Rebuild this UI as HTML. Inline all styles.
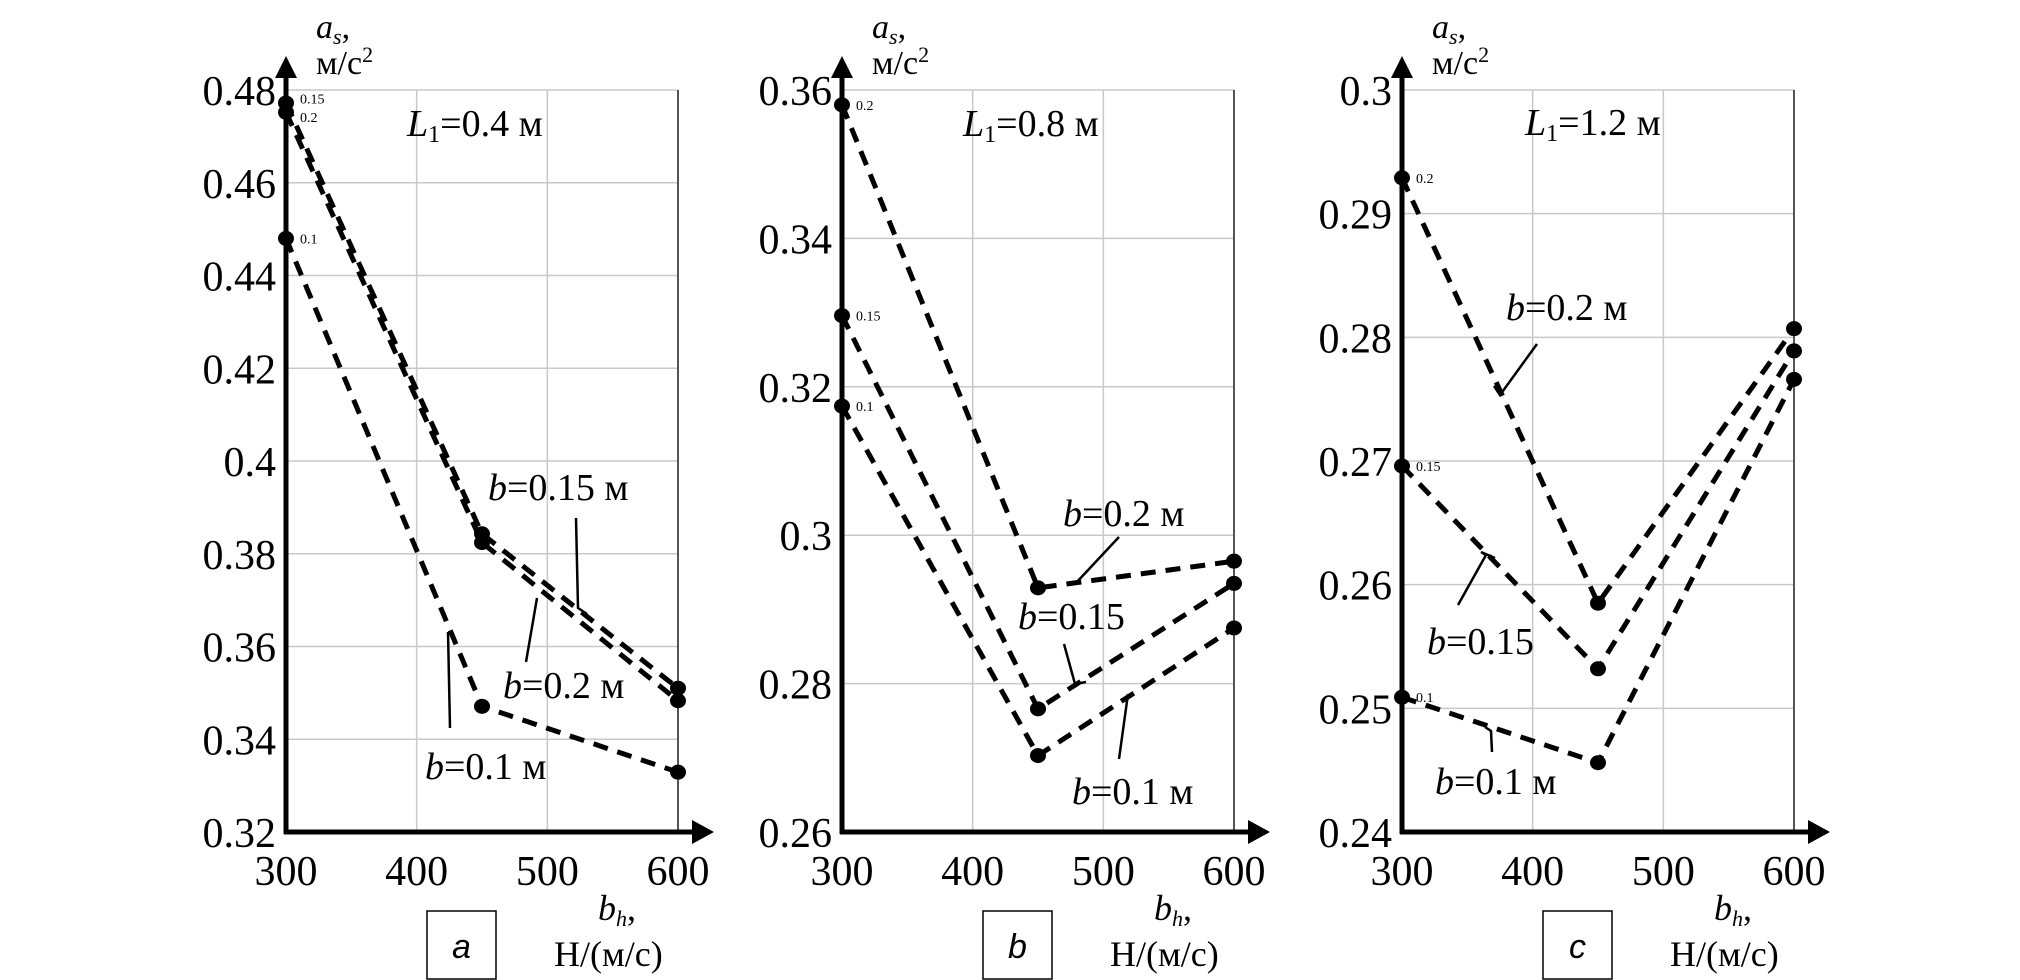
<!DOCTYPE html>
<html><head><meta charset="utf-8">
<style>
html,body{margin:0;padding:0;background:#fff;}
svg{display:block;}
text{font-family:"Liberation Serif",serif;fill:#000;}
</style></head>
<body>
<svg id="chart" width="2020" height="980" viewBox="0 0 2020 980"></svg>
<script>
const xCategories = [300, 450, 600];
const xTicks = [300, 400, 500, 600];
// panel a (L1=0.4)
const aB015 = [0.4772, 0.3843, 0.3510];
const aB02  = [0.4752, 0.3824, 0.3483];
const aB01  = [0.4480, 0.3471, 0.3329];
const aYTicks = ["0.32","0.34","0.36","0.38","0.4","0.42","0.44","0.46","0.48"];
// panel b (L1=0.8)
const bB02  = [0.3580, 0.2929, 0.2965];
const bB015 = [0.3296, 0.2766, 0.2935];
const bB01  = [0.3174, 0.2703, 0.2875];
const bYTicks = ["0.26","0.28","0.3","0.32","0.34","0.36"];
// panel c (L1=1.2)
const cB02  = [0.2929, 0.2585, 0.2807];
const cB015 = [0.2696, 0.2532, 0.2789];
const cB01  = [0.2509, 0.2456, 0.2766];
const cYTicks = ["0.24","0.25","0.26","0.27","0.28","0.29","0.3"];

const NS = "http://www.w3.org/2000/svg";
const svg = document.getElementById('chart');
function mk(tag, attrs, parent){
  const e = document.createElementNS(NS, tag);
  for (const k in attrs) e.setAttribute(k, attrs[k]);
  (parent||svg).appendChild(e);
  return e;
}
function txt(parent, x, y, s, size, anchor, style){
  const t = mk('text', {x:x, y:y, 'font-size':size, 'text-anchor':anchor||'start'}, parent);
  if (style) t.setAttribute('font-style', style);
  t.textContent = s;
  return t;
}

const TOP = 90, BOT = 832;
function panel(id, x0, yTicks, series, smallLabels, title, annots, boxLetter){
  const g = mk('g', {});
  
  
  const x1 = x0 + 392;
  const yMin = parseFloat(yTicks[0]), yMax = parseFloat(yTicks[yTicks.length-1]);
  const X = v => x0 + (v - 300) / 300 * (x1 - x0);
  const Y = v => BOT - (v - yMin) / (yMax - yMin) * (BOT - TOP);
  const grid = mk('g', {stroke:'#c8c8c8','stroke-width':1.5}, g);
  
  
  xTicks.forEach(v => { if (v>300) mk('line',{x1:X(v),y1:TOP,x2:X(v),y2:BOT},grid); });
  yTicks.forEach(s => { const v=parseFloat(s); if (v>yMin) mk('line',{x1:x0,y1:Y(v),x2:x1,y2:Y(v)},grid); });
  mk('line',{x1:x1,y1:TOP,x2:x1,y2:BOT,stroke:'#555','stroke-width':2},g);
  const ax = mk('g', {}, g);
  
  
  mk('line',{x1:x0,y1:BOT+2,x2:x0,y2:70,stroke:'#000','stroke-width':5},ax);
  mk('polygon',{points:`${x0-11},${78} ${x0+11},${78} ${x0},${56}`,fill:'#000'},ax);
  mk('line',{x1:x0-2,y1:BOT,x2:x1+20,y2:BOT,stroke:'#000','stroke-width':5},ax);
  mk('polygon',{points:`${x1+14},${BOT-12} ${x1+14},${BOT+12} ${x1+36},${BOT}`,fill:'#000'},ax);
  yTicks.forEach(s => {
    const t = txt(g, x0-10, Y(parseFloat(s))+15, s, 42, 'end');
    
    
  });
  xTicks.forEach(v => {
    const t = txt(g, X(v), 885, String(v), 42, 'middle');
    
    
  });
  const yt = mk('text',{x:x0+30,y:38,'font-size':34,'font-style':'italic'},g);
  
  
  yt.innerHTML = 'a<tspan font-size="22" dy="6">s</tspan><tspan font-style="normal" dy="-6">,</tspan>';
  const yu = mk('text',{x:x0+30,y:74,'font-size':34},g);
  
  
  yu.innerHTML = 'м/с<tspan font-size="22" dy="-12">2</tspan>';
  const xt = mk('text',{x:x1-80,y:920,'font-size':36,'font-style':'italic'},g);
  
  
  xt.innerHTML = 'b<tspan font-size="22" dy="6">h</tspan><tspan font-style="normal" dy="-6">,</tspan>';
  const xu = txt(g, x1-124, 966, 'Н/(м/с)', 36, 'start');
  
  
  const bx = x0 + 141;
  const br = mk('rect',{x:bx,y:911,width:69,height:68,fill:'#fff',stroke:'#000','stroke-width':1.5},g);
  
  
  const bt = mk('text',{x:bx+34.5,y:958,'font-size':34,'text-anchor':'middle','font-style':'italic'},g);
  bt.setAttribute('style','font-family:"Liberation Sans",sans-serif');
  
  
  bt.textContent = boxLetter;
  const tt = mk('text',{x:title[0],y:title[1],'font-size':38},g);
  
  
  tt.innerHTML = '<tspan font-style="italic">L</tspan><tspan font-size="24" dy="6">1</tspan><tspan dy="-6">=' + title[2] + ' м</tspan>';
  series.forEach(sr => {
    const sg = mk('g',{},g);
    
    
    const pts = xCategories.map((c,i)=>X(c)+','+Y(sr.vals[i])).join(' ');
    const pl = mk('polyline',{points:pts,fill:'none',stroke:'#000','stroke-width':5,'stroke-dasharray':'15,10'},sg);
    
    
    xCategories.forEach((c,i)=>{
      const d = mk('ellipse',{cx:X(c),cy:Y(sr.vals[i]),rx:8,ry:7.5,fill:'#000'},sg);
      
      
    });
  });
  smallLabels.forEach(l => {
    const t = txt(g, x0+14, Y(l[1])+5, l[0], 14, 'start');
    
    
  });
  annots.forEach(a => {
    const t = mk('text',{x:a.x,y:a.y,'font-size':38},g);
    
    
    t.innerHTML = '<tspan font-style="italic">b</tspan>=' + a.s;
    const l = mk('polyline',{points:a.line,fill:'none',stroke:'#000','stroke-width':2.5},g);
    
    
  });
}

panel('a', 286, aYTicks,
  [{name:'b015',vals:aB015},{name:'b02',vals:aB02},{name:'b01',vals:aB01}],
  [['0.15',aB015[0]+0.001],['0.2',aB02[0]-0.001],['0.1',aB01[0]]],
  [407,136,'0.4'],
  [{x:488,y:500,s:'0.15 м',line:'576,518 578,608 587,614'},
   {x:503,y:698,s:'0.2 м',line:'537,598 526,662'},
   {x:425,y:779,s:'0.1 м',line:'448,632 450,728'}], 'a');
panel('b', 842, bYTicks,
  [{name:'b02',vals:bB02},{name:'b015',vals:bB015},{name:'b01',vals:bB01}],
  [['0.2',bB02[0]],['0.15',bB015[0]],['0.1',bB01[0]]],
  [963,136,'0.8'],
  [{x:1063,y:526,s:'0.2 м',line:'1075,584 1119,537'},
   {x:1018,y:629,s:'0.15',line:'1064,644 1075,684 1086,682'},
   {x:1072,y:804,s:'0.1 м',line:'1119,759 1128,694'}], 'b');
panel('c', 1402, cYTicks,
  [{name:'b02',vals:cB02},{name:'b015',vals:cB015},{name:'b01',vals:cB01}],
  [['0.2',cB02[0]],['0.15',cB015[0]],['0.1',cB01[0]]],
  [1525,135,'1.2'],
  [{x:1506,y:320,s:'0.2 м',line:'1494,386 1500,395 1537,344'},
   {x:1427,y:654,s:'0.15',line:'1458,605 1486,555 1481,552 1495,558'},
   {x:1435,y:794,s:'0.1 м',line:'1485,727 1491,731 1492,752'}], 'c');
</script>
</body></html>
